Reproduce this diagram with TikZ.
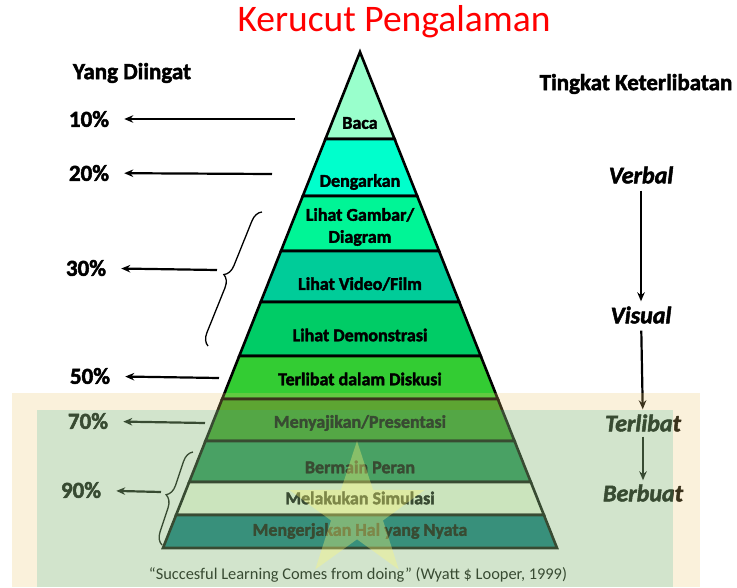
\documentclass[tikz,border=0pt]{standalone}
\usepackage{fontspec}
\setmainfont{Carlito}[BoldFeatures={FakeBold=2},BoldItalicFeatures={FakeBold=2}]
\usepackage{tikz}
\usetikzlibrary{arrows.meta,shapes.geometric,decorations.pathreplacing}
\definecolor{kred}{HTML}{FF0000}
\definecolor{cbaca}{HTML}{99FFCC}
\definecolor{cdengar}{HTML}{00FFCC}
\definecolor{cgambar}{HTML}{00F596}
\definecolor{cvideo}{HTML}{00CC99}
\definecolor{cdemo}{HTML}{00CC66}
\definecolor{cdiskusi}{HTML}{33CC33}
\definecolor{csaji}{HTML}{2E9A1E}
\definecolor{cperan}{HTML}{1C9153}
\definecolor{csimul}{HTML}{F5FFE8}
\definecolor{cnyata}{HTML}{00757A}
\definecolor{tanglow}{HTML}{EBC86E}
\definecolor{greenglow}{HTML}{32B091}
\newcommand\kfs[1]{\fontsize{#1}{#1}\selectfont}

\begin{document}
\begin{tikzpicture}[x=1pt, y=-1pt,
  layer/.style={draw=black,line width=2.6pt,line join=miter},
  lay/.style={font=\bfseries\kfs{18},align=center,inner sep=1pt},
  pct/.style={font=\bfseries\kfs{23},inner xsep=15pt},
  head/.style={font=\bfseries\kfs{23}},
  lvl/.style={font=\bfseries\itshape\kfs{24},inner sep=2pt},
  arr/.style={line width=2.2pt,-{Stealth[length=9pt,width=7.5pt]}},
  brc/.style={line width=1.3pt,decorate,decoration={brace,amplitude=12pt}}]
  \useasboundingbox (0,0) rectangle (737,587);

  % title
  \node[text=kred,font=\kfs{37.5}] (title) at (394,22) {Kerucut Pengalaman};

  % cone layers: top y, bottom y, colour
  \foreach \ya/\yb/\col in {%
    52/139/cbaca, 139/196/cdengar, 196/251/cgambar, 251/302/cvideo,
    302/356/cdemo, 356/399/cdiskusi, 399/441/csaji, 441/482/cperan,
    482/515/csimul, 515/548/cnyata}{
      \pgfmathsetmacro{\wa}{(\ya-52)*0.3972}
      \pgfmathsetmacro{\wb}{(\yb-52)*0.3972}
      \draw[layer,fill=\col] ({360-\wa},\ya) -- ({360+\wa},\ya)
        -- ({360+\wb},\yb) -- ({360-\wb},\yb) -- cycle;
  }

  % layer labels
  \foreach \nm/\y/\txt in {%
    baca/123/Baca, dengar/182/Dengarkan,
    video/284/{Lihat Video/Film}, demo/335/Lihat Demonstrasi,
    diskusi/379/Terlibat dalam Diskusi, saji/423/{Menyajikan/Presentasi},
    peran/467/Bermain Peran, simul/498/Melakukan Simulasi,
    nyata/531/Mengerjakan Hal yang Nyata}{
      \node[lay] (\nm) at (360,\y) {\txt};
  }
  \node[lay] (gambar) at (360,227) {Lihat Gambar/\\[4pt]Diagram};

  % left column
  \node[head] (diingat) at (132,73) {Yang Diingat};
  \node[pct] (p10) at (89,119) {10\%};
  \node[pct] (p20) at (89,173) {20\%};
  \node[pct] (p30) at (86,268) {30\%};
  \node[pct] (p50) at (90,376) {50\%};
  \node[pct] (p70) at (88,421) {70\%};
  \node[pct] (p90) at (81,490) {90\%};
  \coordinate (a10) at (295,119);
  \coordinate (a20) at (272,174);
  \coordinate (a30) at (217,270);
  \coordinate (a50) at (219,378);
  \coordinate (a70) at (205,423);
  \coordinate (a90) at (161,492);
  \foreach \s in {10,20,30,50,70,90}
    \draw[arr] (a\s) -- (p\s);

  % braces
  \coordinate (b30a) at (208,346);
  \coordinate (b30b) at (262,212);
  \coordinate (b90a) at (162,545);
  \coordinate (b90b) at (193,452);
  \draw[brc] (b30a) -- (b30b);
  \draw[brc] (b90a) -- (b90b);

  % right column
  \node[head] (libat) at (636,84) {Tingkat Keterlibatan};
  \node[lvl] (verbal) at (641,175) {Verbal};
  \node[lvl] (visual) at (641,315) {Visual};
  \node[lvl] (terlibat) at (643,423) {Terlibat};
  \node[lvl] (berbuat) at (643,493) {Berbuat};
  \draw[arr,shorten <=5pt,shorten >=3pt] (verbal) -- (visual);
  \draw[arr,shorten <=5pt,shorten >=3pt] (visual) -- (terlibat);
  \draw[arr,shorten <=3pt,shorten >=2pt] (terlibat) -- (berbuat);

  % caption
  \node[font=\kfs{16.4}] (quote) at (358,575)
    {``Succesful Learning Comes from doing'' (Wyatt \$ Looper, 1999)};

  % glow boxes and star on top
  \fill[tanglow,opacity=0.25] (12,393) rectangle (700,587);
  \fill[greenglow,opacity=0.2] (37,410) rectangle (673,587);
  \node[star,star points=5,star point ratio=2.6,minimum size=142pt,
    fill=yellow!55!white,opacity=0.35,inner sep=0pt] (star) at (357,512) {};
\end{tikzpicture}
\end{document}
